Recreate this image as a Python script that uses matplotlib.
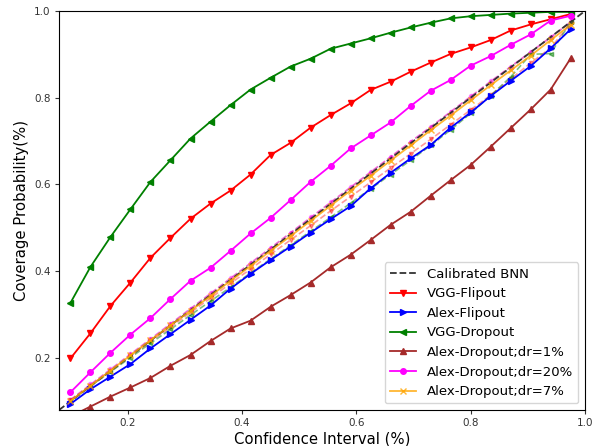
import matplotlib
matplotlib.use('Agg')
import matplotlib.pyplot as plt

# ==========================================
# 1. DONNEES
# ==========================================
conf = [0.100, 0.135, 0.170, 0.205, 0.240, 0.275, 0.310, 0.345, 0.380, 0.415,
        0.450, 0.485, 0.520, 0.555, 0.590, 0.625, 0.660, 0.695, 0.730, 0.765,
        0.800, 0.835, 0.870, 0.905, 0.940, 0.975]

vgg_flipout = [0.199, 0.257, 0.320, 0.374, 0.431, 0.477, 0.521, 0.556, 0.586, 0.623,
               0.668, 0.696, 0.731, 0.760, 0.787, 0.818, 0.837, 0.860, 0.881, 0.901,
               0.916, 0.933, 0.955, 0.969, 0.981, 0.993]

alex_flipout = [0.094, 0.128, 0.157, 0.186, 0.222, 0.255, 0.288, 0.321, 0.360, 0.394,
                0.426, 0.457, 0.489, 0.520, 0.550, 0.591, 0.627, 0.660, 0.691, 0.731,
                0.766, 0.804, 0.839, 0.873, 0.914, 0.958]

vgg_dropout = [0.327, 0.410, 0.479, 0.543, 0.606, 0.656, 0.706, 0.745, 0.783, 0.819,
               0.846, 0.872, 0.890, 0.913, 0.925, 0.937, 0.950, 0.962, 0.973, 0.983,
               0.988, 0.991, 0.994, 0.996, 0.998, 0.998]

alex_dr1 = [0.065, 0.088, 0.111, 0.132, 0.154, 0.182, 0.207, 0.239, 0.268, 0.286,
            0.318, 0.345, 0.374, 0.409, 0.438, 0.472, 0.507, 0.537, 0.574, 0.610,
            0.645, 0.687, 0.730, 0.773, 0.819, 0.891]

alex_dr20 = [0.121, 0.167, 0.212, 0.254, 0.292, 0.336, 0.378, 0.408, 0.447, 0.487,
             0.523, 0.564, 0.606, 0.643, 0.683, 0.713, 0.743, 0.781, 0.816, 0.841,
             0.874, 0.896, 0.922, 0.946, 0.978, 0.989]

alex_dr7 = [0.101, 0.136, 0.171, 0.206, 0.241, 0.275, 0.309, 0.343, 0.378, 0.412,
            0.447, 0.481, 0.516, 0.551, 0.586, 0.620, 0.655, 0.690, 0.725, 0.759,
            0.794, 0.829, 0.863, 0.897, 0.933, 0.968]

# versions recalibrees (pointilles pales)
vgg_flipout_cal = [0.102, 0.136, 0.170, 0.204, 0.238, 0.271, 0.305, 0.338, 0.372, 0.405,
                   0.439, 0.472, 0.505, 0.539, 0.572, 0.605, 0.638, 0.671, 0.704, 0.738,
                   0.772, 0.806, 0.843, 0.880, 0.915, 0.972]
vgg_dropout_cal = [0.101, 0.135, 0.168, 0.201, 0.234, 0.266, 0.299, 0.331, 0.363, 0.396,
                   0.428, 0.460, 0.492, 0.524, 0.557, 0.590, 0.623, 0.656, 0.690, 0.726,
                   0.764, 0.805, 0.848, 0.900, 0.902, 0.975]
alex_dr20_cal = [0.104, 0.139, 0.174, 0.209, 0.244, 0.279, 0.314, 0.349, 0.384, 0.419,
                 0.454, 0.489, 0.524, 0.559, 0.594, 0.629, 0.664, 0.699, 0.733, 0.768,
                 0.803, 0.838, 0.872, 0.906, 0.940, 0.975]
alex_dr1_cal = [0.103, 0.138, 0.173, 0.208, 0.243, 0.278, 0.313, 0.348, 0.383, 0.418,
                0.453, 0.488, 0.523, 0.558, 0.593, 0.628, 0.663, 0.698, 0.732, 0.767,
                0.802, 0.837, 0.871, 0.905, 0.939, 0.974]

# ==========================================
# 2. GRAPHIQUE
# ==========================================
fig = plt.figure(figsize=(5.98, 4.46), dpi=100)
ax = fig.add_axes([0.0987, 0.0807, 0.8795, 0.8946])

# courbes recalibrees, pales
ax.plot(conf, alex_dr1_cal, '--', color='brown', marker='^', ms=3, alpha=0.4, lw=1.2)
ax.plot(conf, alex_dr20_cal, '--', color='magenta', marker='o', ms=3, alpha=0.4, lw=1.2)
ax.plot(conf, vgg_flipout_cal, '--', color='red', marker='v', ms=3, alpha=0.4, lw=1.2)
ax.plot(conf, vgg_dropout_cal, '--', color='green', marker='<', ms=3, alpha=0.5, lw=1.2)

ax.plot([0, 1], [0, 1], '--', color='#333333', lw=1.3, label='Calibrated BNN')
ax.plot(conf, vgg_flipout, color='red', marker='v', ms=4, lw=1.3, label='VGG-Flipout')
ax.plot(conf, alex_flipout, color='blue', marker='>', ms=4, lw=1.3, label='Alex-Flipout')
ax.plot(conf, vgg_dropout, color='green', marker='<', ms=4, lw=1.3, label='VGG-Dropout')
ax.plot(conf, alex_dr1, color='brown', marker='^', ms=4, lw=1.3, label='Alex-Dropout;dr=1%')
ax.plot(conf, alex_dr20, color='magenta', marker='o', ms=4, lw=1.3, label='Alex-Dropout;dr=20%')
ax.plot(conf, alex_dr7, color='orange', marker='x', ms=4, lw=1.3, alpha=0.8, label='Alex-Dropout;dr=7%')

ax.set_xlim(0.08, 1.0)
ax.set_ylim(0.08, 1.0)
ax.set_xticks([0.2, 0.4, 0.6, 0.8, 1.0])
ax.set_yticks([0.2, 0.4, 0.6, 0.8, 1.0])
ax.tick_params(labelsize=7.5, length=3, pad=3, colors='#333333', labelcolor='#333333')

ax.set_xlabel("Confidence Interval (%)", fontsize=10.7, labelpad=2)
ax.set_ylabel("Coverage Probability(%)", fontsize=10.7, labelpad=4)

ax.legend(loc='lower right', fontsize=9.5)

plt.savefig('out.png', dpi=100)
